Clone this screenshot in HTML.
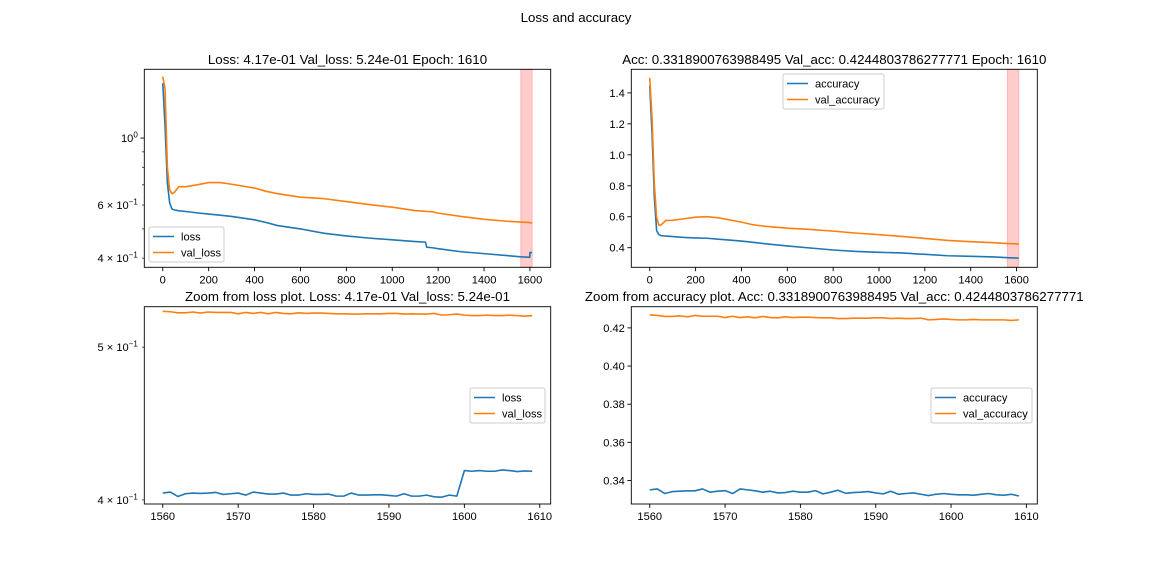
<!DOCTYPE html>
<html><head><meta charset="utf-8"><style>
html,body{margin:0;padding:0;background:#fff;}
svg{display:block;font-family:"Liberation Sans","DejaVu Sans",sans-serif;}
</style></head><body>
<svg id="fig" width="1152" height="576" viewBox="0 0 1152 576" xmlns="http://www.w3.org/2000/svg">
<rect width="1152" height="576" fill="#fff"/>
<text x="576" y="22" text-anchor="middle" font-size="13.3" fill="#000">Loss and accuracy</text>
</svg>
<script>
// ---- Full-run data (sampled epochs) ----
const fullEpochs = [0,10,20,30,40,50,70,100,150,200,250,300,400,450,500,600,700,800,900,1000,1100,1145,1150,1175,1200,1300,1400,1500,1560,1599,1600,1609];
const lossFull = [1.52,1.09,0.71,0.61,0.582,0.578,0.574,0.571,0.565,0.56,0.555,0.55,0.536,0.525,0.513,0.50,0.484,0.474,0.466,0.46,0.454,0.452,0.435,0.433,0.43,0.42,0.414,0.408,0.404,0.4025,0.4175,0.4171];
const valLossFull = [1.6,1.46,0.80,0.674,0.654,0.66,0.69,0.69,0.70,0.712,0.712,0.703,0.683,0.666,0.654,0.637,0.63,0.616,0.602,0.59,0.575,0.572,0.571,0.57,0.564,0.55,0.538,0.53,0.5269,0.5248,0.5240,0.5237];
const accFull = [1.447,1.135,0.727,0.51,0.484,0.478,0.475,0.472,0.466,0.463,0.461,0.455,0.443,0.435,0.426,0.411,0.398,0.385,0.376,0.370,0.366,0.362,0.361,0.359,0.357,0.348,0.344,0.340,0.3351,0.3332,0.3328,0.3319];
const valAccFull = [1.497,1.24,0.813,0.597,0.544,0.548,0.576,0.577,0.587,0.597,0.60,0.593,0.565,0.548,0.539,0.526,0.518,0.507,0.494,0.484,0.473,0.467,0.466,0.464,0.460,0.447,0.439,0.432,0.4268,0.4247,0.4244,0.4242];
// ---- Zoom window data (epochs 1560-1609) ----
const zoomEpochs = Array.from({length:50},(_,i)=>1560+i);
const lossZoom = [0.4040,0.4046,0.4020,0.4036,0.4040,0.4038,0.4040,0.4044,0.4032,0.4036,0.4040,0.4028,0.4046,0.4040,0.4034,0.4034,0.4040,0.4028,0.4028,0.4036,0.4032,0.4032,0.4034,0.4022,0.4022,0.4040,0.4028,0.4028,0.4030,0.4030,0.4026,0.4022,0.4036,0.4022,0.4022,0.4028,0.4018,0.4016,0.4028,0.4022,0.4175,0.4171,0.4175,0.4171,0.4171,0.4179,0.4175,0.4169,0.4173,0.4171];
const valLossZoom = [0.5269,0.5266,0.5258,0.5258,0.5264,0.5256,0.5264,0.5261,0.5261,0.5261,0.5250,0.5261,0.5253,0.5261,0.5250,0.5261,0.5253,0.5250,0.5258,0.5253,0.5256,0.5256,0.5253,0.5250,0.5250,0.5248,0.5248,0.5250,0.5250,0.5250,0.5253,0.5253,0.5248,0.5250,0.5248,0.5248,0.5253,0.5240,0.5243,0.5248,0.5240,0.5237,0.5237,0.5240,0.5237,0.5237,0.5240,0.5237,0.5232,0.5237];
const accZoom = [0.3351,0.3356,0.3332,0.3342,0.3344,0.3346,0.3346,0.3356,0.3339,0.3344,0.3347,0.3332,0.3356,0.3351,0.3346,0.3339,0.3344,0.3335,0.3337,0.3344,0.3339,0.3339,0.3347,0.3330,0.3339,0.3349,0.3333,0.3337,0.3339,0.3342,0.3335,0.3330,0.3344,0.3328,0.3332,0.3335,0.3328,0.3321,0.3328,0.3332,0.3328,0.3325,0.3325,0.3323,0.3328,0.3332,0.3325,0.3323,0.3328,0.3319];
const valAccZoom = [0.4268,0.4265,0.4260,0.4260,0.4263,0.4258,0.4265,0.4261,0.4261,0.4261,0.4254,0.4261,0.4254,0.4258,0.4253,0.4260,0.4254,0.4253,0.4258,0.4254,0.4256,0.4256,0.4254,0.4253,0.4253,0.4249,0.4249,0.4251,0.4251,0.4251,0.4253,0.4253,0.4249,0.4251,0.4249,0.4249,0.4251,0.4242,0.4244,0.4247,0.4244,0.4242,0.4242,0.4244,0.4242,0.4242,0.4242,0.4242,0.4239,0.4242];
// ---- Tick labels ----
const xTicksFull = [0,200,400,600,800,1000,1200,1400,1600];
const xTicksZoom = [1560,1570,1580,1590,1600,1610];
const lossMajorTicks = [1.0];
const lossMinorTicks = [0.4,0.5,0.6,0.7,0.8,0.9];
const lossMinorLabels = ['4','','6','','',''];
const lossZoomTicks = [0.4,0.5];
const accTicksFull = [0.4,0.6,0.8,1.0,1.2,1.4];
const accTicksZoom = [0.34,0.36,0.38,0.40,0.42];
const spanRange = [1560,1610];

const NS='http://www.w3.org/2000/svg';
const svg=document.getElementById('fig');
const BLUE='#1f77b4', ORANGE='#ff7f0e';
const TF=11.1, TT=13.3;
function mk(tag,attrs,parent){const e=document.createElementNS(NS,tag);for(const k in attrs)e.setAttribute(k,attrs[k]);(parent||svg).appendChild(e);return e;}

function makeAxes(box,xlim,ylim,log){
  const [L,T,R,B]=box;
  const fx=v=>L+(v-xlim[0])/(xlim[1]-xlim[0])*(R-L);
  const tr=log?Math.log10:(v=>v);
  const fy=v=>B-(tr(v)-tr(ylim[0]))/(tr(ylim[1])-tr(ylim[0]))*(B-T);
  return {L,T,R,B,fx,fy};
}
function drawFrame(ax,g){
  const f=mk('rect',{x:ax.L,y:ax.T,width:ax.R-ax.L,height:ax.B-ax.T,fill:'none',stroke:'#000','stroke-width':0.9},g);
  
  
}
function xTicks(ax,ticks,g,name){
  ticks.forEach(t=>{
    const x=ax.fx(t);
    const l=mk('line',{x1:x,x2:x,y1:ax.B,y2:ax.B+3.9,stroke:'#000','stroke-width':0.9},g);
    
    
    const tx=mk('text',{x:x,y:ax.B+16,'text-anchor':'middle','font-size':TF,fill:'#000'},g);
    tx.textContent=String(t);
    
    
  });
}
function yTicksLin(ax,ticks,dec,g,name){
  ticks.forEach(t=>{
    const y=ax.fy(t);
    const l=mk('line',{x1:ax.L-3.9,x2:ax.L,y1:y,y2:y,stroke:'#000','stroke-width':0.9},g);
    
    
    const tx=mk('text',{x:ax.L-6.5,y:y+4,'text-anchor':'end','font-size':TF,fill:'#000'},g);
    tx.textContent=t.toFixed(dec);
    
    
  });
}
function sciLabel(ax,y,mant,exp,g,name){
  const tx=mk('text',{x:ax.L-6.5,y:y+4,'text-anchor':'end','font-size':TF,fill:'#000'},g);
  
  
  const a=document.createElementNS(NS,'tspan');a.textContent=(mant?mant+' \u00d7 ':'')+'10';tx.appendChild(a);
  const b=document.createElementNS(NS,'tspan');b.setAttribute('dy','-4.5');b.setAttribute('font-size','8');b.textContent=exp;tx.appendChild(b);
}
function yTicksLog(ax,major,minor,minorLabels,g,name){
  major.forEach(t=>{
    const y=ax.fy(t);
    const l=mk('line',{x1:ax.L-3.9,x2:ax.L,y1:y,y2:y,stroke:'#000','stroke-width':0.9},g);
    
    
    sciLabel(ax,y,'',String(Math.round(Math.log10(t))),g,name);
  });
  minor.forEach((t,i)=>{
    const y=ax.fy(t);
    const l=mk('line',{x1:ax.L-2.2,x2:ax.L,y1:y,y2:y,stroke:'#000','stroke-width':0.7},g);
    
    
    if(minorLabels[i]) sciLabel(ax,y,minorLabels[i],'\u22121',g,name);
  });
}
function series(ax,xs,ys,color,g,name){
  const d=xs.map((x,i)=>(i?'L':'M')+ax.fx(x).toFixed(2)+','+ax.fy(ys[i]).toFixed(2)).join(' ');
  const p=mk('path',{d:d,fill:'none',stroke:color,'stroke-width':1.6,'stroke-linejoin':'round'},g);
  
  
}
function span(ax,g){
  const x1=ax.fx(spanRange[0]),x2=ax.fx(spanRange[1]);
  const r=mk('rect',{x:x1,y:ax.T,width:x2-x1,height:ax.B-ax.T,fill:'rgba(255,0,0,0.2)',stroke:'rgba(255,0,0,0.2)','stroke-width':1},g);
  
  
}
function title(ax,text,g,name){
  const t=mk('text',{x:(ax.L+ax.R)/2,y:ax.T-5.5,'text-anchor':'middle','font-size':TT,fill:'#000'},g);
  t.textContent=text;
  
  
}
function legend(x,y,w,labels,g,name){
  const lg=mk('g',{},g);
  
  
  const r=mk('rect',{x:x,y:y,width:w,height:35,rx:2,fill:'rgba(255,255,255,0.8)',stroke:'#ccc','stroke-width':1},lg);
  
  
  labels.forEach((lab,i)=>{
    const yy=y+9.5+i*16;
    const l=mk('line',{x1:x+4,x2:x+25,y1:yy,y2:yy,stroke:i?ORANGE:BLUE,'stroke-width':1.6},lg);
    
    
    const t=mk('text',{x:x+32,y:yy+4,'font-size':TF,fill:'#000'},lg);
    t.textContent=lab;
    
    
  });
}
function group(name){const g=mk('g',{});return g;}

// Panel 1: loss (log)
{
  const g=group('loss-panel');
  const ax=makeAxes([144.3,69.3,550.7,267.3],[-80.5,1690.5],[0.373,1.69],true);
  span(ax,g);
  series(ax,fullEpochs,lossFull,BLUE,g,'loss-line');
  series(ax,fullEpochs,valLossFull,ORANGE,g,'val-loss-line');
  drawFrame(ax,g);
  xTicks(ax,xTicksFull,g,'x-axis');
  yTicksLog(ax,lossMajorTicks,lossMinorTicks,lossMinorLabels,g,'y-axis');
  title(ax,'Loss: 4.17e-01 Val_loss: 5.24e-01 Epoch: 1610',g,'loss-title');
  legend(149,227,75,['loss','val_loss'],g,'loss-legend');
}
// Panel 2: accuracy
{
  const g=group('accuracy-panel');
  const ax=makeAxes([631.3,69.3,1037.3,267.3],[-80.5,1690.5],[0.2733,1.5524],false);
  span(ax,g);
  series(ax,fullEpochs,accFull,BLUE,g,'accuracy-line');
  series(ax,fullEpochs,valAccFull,ORANGE,g,'val-accuracy-line');
  drawFrame(ax,g);
  xTicks(ax,xTicksFull,g,'x-axis');
  yTicksLin(ax,accTicksFull,1,g,'y-axis');
  title(ax,'Acc: 0.3318900763988495 Val_acc: 0.4244803786277771 Epoch: 1610',g,'accuracy-title');
  legend(783,74,101,['accuracy','val_accuracy'],g,'accuracy-legend');
}
// Panel 3: zoomed loss (log)
{
  const g=group('zoom-loss-panel');
  const ax=makeAxes([144.3,306.7,550.7,504],[1557.55,1611.45],[0.3976,0.5305],true);
  series(ax,zoomEpochs,lossZoom,BLUE,g,'zoom-loss-line');
  series(ax,zoomEpochs,valLossZoom,ORANGE,g,'zoom-val-loss-line');
  drawFrame(ax,g);
  xTicks(ax,xTicksZoom,g,'x-axis');
  yTicksLog(ax,[],lossZoomTicks,['4','5'],g,'y-axis');
  title(ax,'Zoom from loss plot. Loss: 4.17e-01 Val_loss: 5.24e-01',g,'zoom-loss-title');
  legend(470,388,75,['loss','val_loss'],g,'zoom-loss-legend');
}
// Panel 4: zoomed accuracy
{
  const g=group('zoom-accuracy-panel');
  const ax=makeAxes([631.3,306.7,1037.3,504],[1557.55,1611.45],[0.3277,0.4311],false);
  series(ax,zoomEpochs,accZoom,BLUE,g,'zoom-accuracy-line');
  series(ax,zoomEpochs,valAccZoom,ORANGE,g,'zoom-val-accuracy-line');
  drawFrame(ax,g);
  xTicks(ax,xTicksZoom,g,'x-axis');
  yTicksLin(ax,accTicksZoom,2,g,'y-axis');
  title(ax,'Zoom from accuracy plot. Acc: 0.3318900763988495 Val_acc: 0.4244803786277771',g,'zoom-accuracy-title');
  legend(931,388,101,['accuracy','val_accuracy'],g,'zoom-accuracy-legend');
}
</script>
</body></html>
